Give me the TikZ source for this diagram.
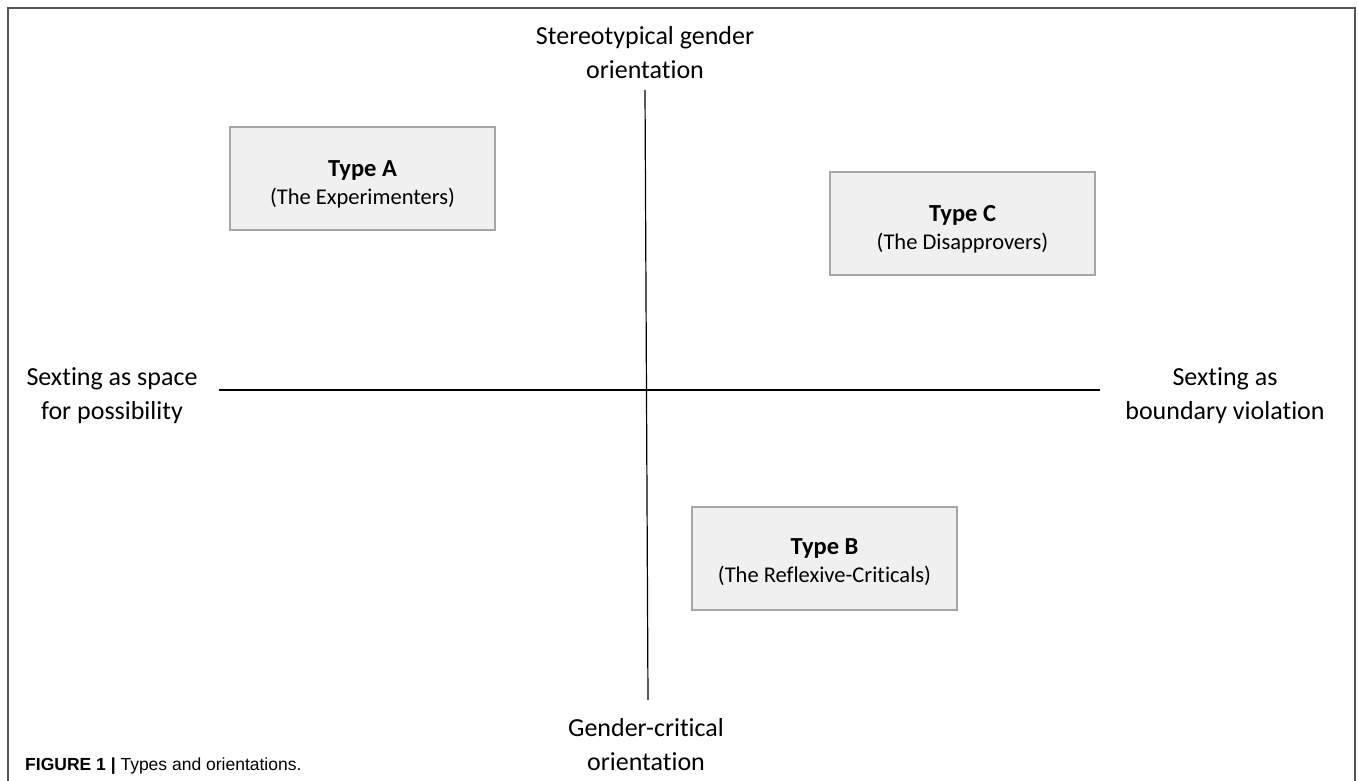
\documentclass[tikz,border=0pt]{standalone}
\usepackage{fontspec}
\setmainfont{Carlito}[Ligatures=NoCommon]
\newfontfamily\capfont{Liberation Sans}
\definecolor{boxgray}{HTML}{A6A6A6}
\definecolor{boxfill}{HTML}{F0F0F0}
\definecolor{framegray}{HTML}{555555}
\begin{document}
\begin{tikzpicture}[
    x=1pt, y=-1pt,
    every node/.style={inner sep=0pt, align=center, font=\fontsize{26}{34}\selectfont},
    typebox/.style={draw=boxgray, fill=boxfill, line width=2.5pt, minimum width=265pt, minimum height=103pt,
        font=\fontsize{22.5}{28}\selectfont},
    axisline/.style={draw=black, line width=1.2pt},
    frameline/.style={draw=framegray, line width=2pt}
]
    \useasboundingbox (0,0) rectangle (1358,781);
    \draw[frameline] (8,781) -- (8,8) -- (1355,8) -- (1355,781);

    % axis ends
    \coordinate (top) at (645,90);
    \coordinate (bottom) at (648,700);
    \coordinate (left) at (219,390);
    \coordinate (right) at (1100,390);
    \draw[axisline] (top) -- (bottom);
    \draw[axisline] (left) -- (right);

    % axis labels
    \node (stereo) at (645,53) {Stereotypical gender\\orientation};
    \node (critical) at (646,745) {Gender-critical\\orientation};
    \node (possib) at (112,396) {Sexting as space\\for possibility};
    \node (violation) at (1225,396) {Sexting as\\boundary violation};

    % types
    \node[typebox] (typeA) at (362.5,178.5) {\rule{0pt}{27pt}{\fontsize{24.5}{28}\selectfont\textbf{Type A}}\\(The Experimenters)};
    \node[typebox] (typeC) at (962.5,223.5) {\rule{0pt}{27pt}{\fontsize{24.5}{28}\selectfont\textbf{Type C}}\\(The Disapprovers)};
    \node[typebox] (typeB) at (824.5,558.5) {\rule{0pt}{24pt}{\fontsize{24.5}{28}\selectfont\textbf{Type B}}\\(The Reflexive-Criticals)};

    \node[anchor=base west, font=\capfont\fontsize{17.5}{20}\selectfont] (caption) at (25,770) {\textbf{FIGURE 1 |} Types and orientations.};
\end{tikzpicture}
\end{document}
